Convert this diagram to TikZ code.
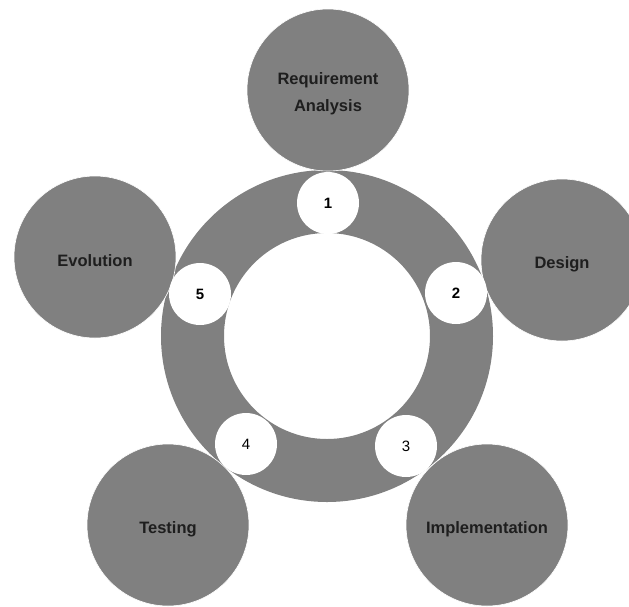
\documentclass[tikz,border=0pt]{standalone}
\usepackage{fontspec}
\setmainfont{Liberation Sans}
\begin{document}
\begin{tikzpicture}[x=1pt,y=-1pt,
  phase/.style={circle,fill=ringgray,draw=white,line width=0.6pt,minimum size=162pt,inner sep=0pt},
  phasetext/.style={align=center,font=\fontsize{16.5}{27}\selectfont\bfseries,text=textdark,yshift=-4pt},
  stepnum/.style={circle,fill=white,draw=none,minimum size=62pt,inner sep=0pt,
    font=\fontsize{15}{17}\selectfont,text=black},
  boldnum/.style={font=\fontsize{15}{17}\selectfont\bfseries}]
\definecolor{ringgray}{HTML}{808080}
\definecolor{textdark}{HTML}{1E1E1E}
\useasboundingbox (0,0) rectangle (629,606);
% the cycle ring
\coordinate (hub) at (327,336);
\fill[ringgray,even odd rule] (hub) circle[radius=166] (hub) circle[radius=103];
% the five phases
\node[phase,label={[phasetext]center:Requirement\\Analysis}] (req) at (328,90) {};
\node[phase,label={[phasetext]center:Design}] (des) at (562,260) {};
\node[phase,label={[phasetext]center:Implementation}] (imp) at (487,525) {};
\node[phase,label={[phasetext]center:Testing}] (tst) at (168,525) {};
\node[phase,label={[phasetext]center:Evolution}] (evo) at (95,257) {};
% step markers on the ring
\node[stepnum,boldnum] (s1) at (328,203) {1};
\node[stepnum,boldnum] (s2) at (456,293) {2};
\node[stepnum] (s3) at (406,446) {3};
\node[stepnum] (s4) at (246,444) {4};
\node[stepnum,boldnum] (s5) at (200,294) {5};
\end{tikzpicture}
\end{document}
